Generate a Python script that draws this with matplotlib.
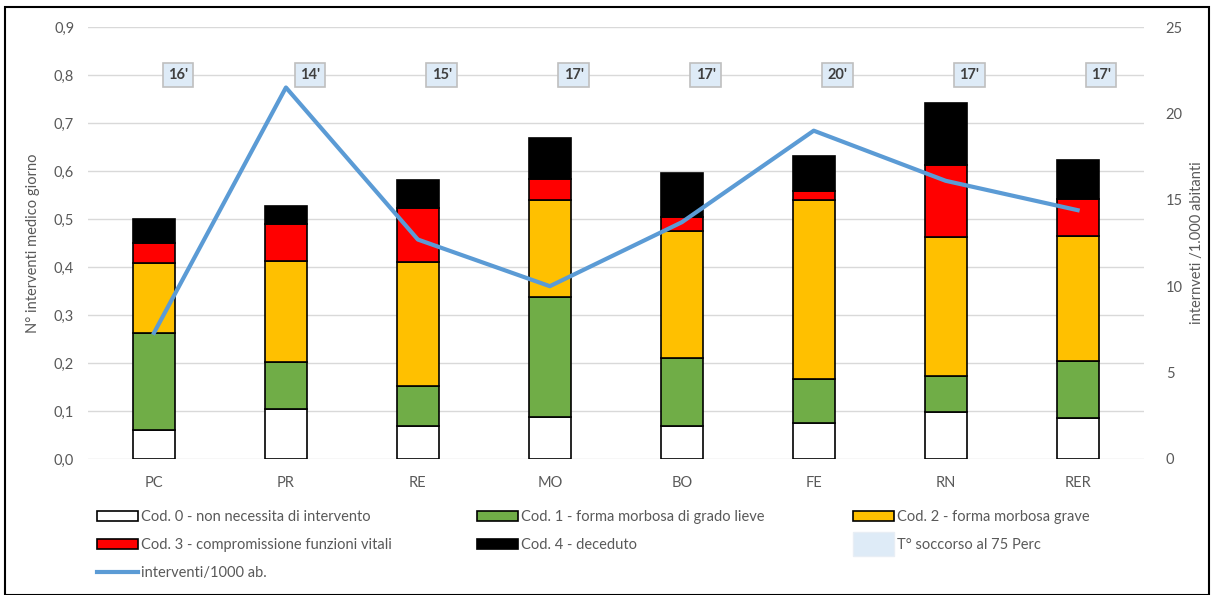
import numpy as np
import matplotlib.pyplot as plt
from matplotlib.patches import Patch, Rectangle
from matplotlib.lines import Line2D
from matplotlib.legend_handler import HandlerPatch

plt.rcParams['font.family'] = ['Lato', 'DejaVu Sans']

# Data
areas = ["PC", "PR", "RE", "MO", "BO", "FE", "RN", "RER"]
cod0 = [0.061, 0.104, 0.069, 0.088, 0.069, 0.075, 0.098, 0.085]
cod1 = [0.202, 0.098, 0.083, 0.250, 0.141, 0.092, 0.075, 0.119]
cod2 = [0.146, 0.210, 0.258, 0.202, 0.265, 0.373, 0.290, 0.261]
cod3 = [0.042, 0.078, 0.113, 0.043, 0.029, 0.018, 0.150, 0.077]
cod4 = [0.050, 0.037, 0.058, 0.086, 0.092, 0.073, 0.129, 0.081]
interventi_1000 = [7.3, 21.5, 12.7, 10.0, 13.7, 19.0, 16.1, 14.4]
tempo_75 = ["16'", "14'", "15'", "17'", "17'", "20'", "17'", "17'"]

series = [cod0, cod1, cod2, cod3, cod4]
labels = ["Cod. 0 - non necessita di intervento",
          "Cod. 1 - forma morbosa di grado lieve",
          "Cod. 2 - forma morbosa grave",
          "Cod. 3 - compromissione funzioni vitali",
          "Cod. 4 - deceduto"]
colors = ["#FFFFFF", "#70AD47", "#FFC000", "#FF0000", "#000000"]
line_color = "#5B9BD5"
tick_color = "#595959"
fs = 10.5

fig = plt.figure(figsize=(12.14, 5.95), dpi=100)
ax = fig.add_axes([0.0725, 0.2286, 0.8695, 0.726])

x = np.arange(len(areas))
bottom = np.zeros(len(areas))
for vals, lab, col in zip(series, labels, colors):
    ax.bar(x, vals, 0.32, bottom=bottom, color=col, edgecolor="black",
           linewidth=1.2, label=lab, zorder=3)
    bottom += np.array(vals)

ax.set_xlim(-0.5, len(areas) - 0.5)
ax.set_ylim(0, 0.9)
ax.set_yticks(np.arange(0, 0.91, 0.1))
ax.set_yticklabels([f"{v:.1f}".replace(".", ",") for v in np.arange(0, 0.91, 0.1)])
ax.set_xticks(x)
ax.set_xticklabels(areas)
ax.yaxis.grid(True, color="#D9D9D9", linewidth=1, zorder=0)
ax.set_axisbelow(True)
for s in ax.spines.values():
    s.set_visible(False)
ax.tick_params(axis="both", length=0, colors=tick_color, labelsize=fs)
ax.tick_params(axis="x", pad=12)
ax.tick_params(axis="y", pad=10)
ax.set_ylabel("N° interventi medico giorno", color=tick_color, fontsize=fs, labelpad=10)

# labels with the rescue time (75th percentile)
for xi, t in zip(x, tempo_75):
    ax.text(xi + 0.18, 0.8, t, ha="center", va="center", fontsize=fs,
            fontweight="bold", color="#404040", zorder=6,
            bbox=dict(boxstyle="square,pad=0.35", facecolor="#DEEBF7",
                      edgecolor="#BFBFBF", linewidth=1.2))

ax2 = ax.twinx()
ax2.plot(x, interventi_1000, color=line_color, linewidth=3, zorder=5)
ax2.set_ylim(0, 25)
ax2.set_yticks(range(0, 26, 5))
for s in ax2.spines.values():
    s.set_visible(False)
ax2.tick_params(axis="y", length=0, colors=tick_color, labelsize=fs, pad=16)
ax2.set_ylabel("internveti /1.000 abitanti", color=tick_color, fontsize=fs, labelpad=5)


def big_box(legend, orig_handle, xdescent, ydescent, width, height, fontsize):
    return Rectangle((-xdescent, -ydescent - 5), width, height + 10)


# legend, three columns like the original
h = [Patch(facecolor=c, edgecolor="black", linewidth=1.2) for c in colors]
h_line = Line2D([], [], color=line_color, linewidth=3)
h_box = Patch(facecolor="#DEEBF7", edgecolor="#E8EEF5")
cols = [([h[0], h[3], h_line], [labels[0], labels[3], "interventi/1000 ab."], 0.075),
        ([h[1], h[4]], [labels[1], labels[4]], 0.388),
        ([h[2], h_box], [labels[2], "T° soccorso al 75 Perc"], 0.698)]
for hh, ll, xpos in cols:
    fig.legend(hh, ll, loc="upper left", bbox_to_anchor=(xpos, 0.152),
               frameon=False, fontsize=fs, labelcolor=tick_color,
               handlelength=2.8, handleheight=0.7, handletextpad=0.2,
               labelspacing=0.95, borderaxespad=0,
               handler_map={h_box: HandlerPatch(patch_func=big_box)})

fig.patches.append(Rectangle((0.004, 0.0), 0.992, 0.988, transform=fig.transFigure,
                             fill=False, edgecolor="black", linewidth=1.5))

fig.savefig("out.png", dpi=100)
